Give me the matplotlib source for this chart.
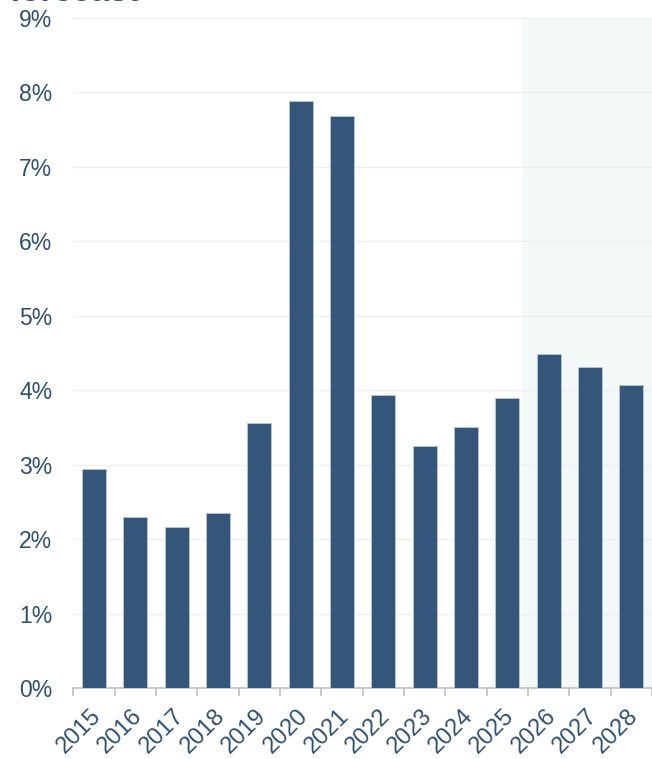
import matplotlib
matplotlib.use("Agg")
import matplotlib.pyplot as plt
import matplotlib.transforms as mtransforms
import numpy as np

years = ["2015", "2016", "2017", "2018", "2019", "2020", "2021",
         "2022", "2023", "2024", "2025", "2026", "2027", "2028"]
values = [2.94, 2.30, 2.16, 2.35, 3.56, 7.88, 7.69,
          3.94, 3.25, 3.51, 3.90, 4.48, 4.31, 4.07]
yticks = [0, 1, 2, 3, 4, 5, 6, 7, 8, 9]

plt.rcParams['font.family'] = ['Liberation Sans', 'DejaVu Sans']
text_color = '#2f5070'
bar_color = '#33567a'

fig = plt.figure(figsize=(6.52, 7.59), dpi=100)
W, H = 652, 759
ax = fig.add_axes([73.3 / W, 1 - 688 / H, (652 - 73.3) / W, (688 - 18) / H])

x = np.arange(len(years))
ax.axvspan(10.36, len(years) - 0.5, color='#f3f8f9', zorder=0, lw=0)
ax.bar(x, values, width=0.58, color=bar_color, edgecolor='#b9c7d4',
       linewidth=0.6, zorder=3)

ax.set_xlim(-0.5, len(years) - 0.5)
ax.set_ylim(0, 9)
ax.set_yticks(yticks)
ax.set_yticklabels([f"{v}%" for v in yticks])
ax.yaxis.grid(True, color='#eeeeee', linewidth=1, zorder=1)
ax.set_axisbelow(True)

ax.set_xticks(x)
ax.set_xticklabels(years, rotation=45, ha='right', va='top',
                   rotation_mode='anchor')
ax.set_xticks(np.arange(-0.5, len(years), 1), minor=True)
ax.tick_params(axis='x', which='major', length=0, pad=12, labelsize=17,
               colors=text_color)
ax.tick_params(axis='x', which='minor', length=6, color='#c0c0c0', width=1.2)
ax.tick_params(axis='y', length=0, pad=15, labelsize=16.5, colors=text_color)

offset = mtransforms.ScaledTranslation(-4 / 100, 0, fig.dpi_scale_trans)
for lab in ax.get_xticklabels():
    lab.set_transform(lab.get_transform() + offset)

for s in ['top', 'right', 'left']:
    ax.spines[s].set_visible(False)
ax.spines['bottom'].set_color('#c0c0c0')
ax.spines['bottom'].set_linewidth(1.2)

fig.text(0.015, 1 - 1 / H, "forecast", fontsize=24, fontweight='bold',
         color=text_color, va='baseline', ha='left')

fig.savefig("out.png", dpi=100)
